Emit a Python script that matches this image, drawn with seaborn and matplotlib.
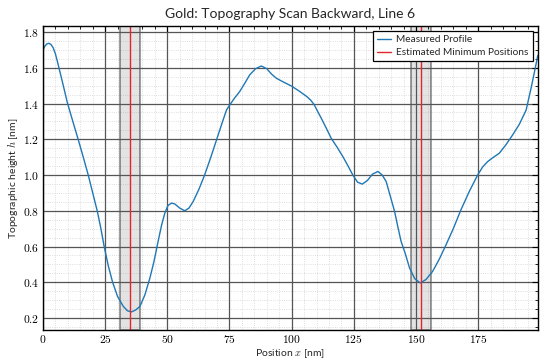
import numpy as np
import pandas as pd
import matplotlib
matplotlib.use("Agg")
import matplotlib.pyplot as plt
from matplotlib.ticker import FixedLocator, FuncFormatter
import seaborn as sns

# Height profile along the scan line
position_nm = [0, 0.8, 1.6, 2.4, 3.2, 4.1, 5, 5.8, 6.6, 8, 9.8, 12, 14.2, 16.2, 18.2,
               20, 21.8, 23.3, 24.6, 26.3, 28, 30, 32.3, 34, 35.6, 37.3, 39, 41, 43,
               44.7, 46.3, 47.7, 49, 50.3, 51.7, 53, 55, 57, 58.7, 60.4, 62.7, 65,
               67.5, 69.8, 72, 73.8, 75.1, 77, 79.1, 81, 83.1, 85.5, 87.8, 90, 91.9,
               93.9, 96.5, 99.9, 103, 106, 107.6, 109, 110.3, 111.9, 114, 115.9, 118.3,
               120.6, 122.7, 124.6, 126.5, 128.4, 130.5, 132.5, 134.7, 136.4, 138,
               139.7, 141.4, 142.7, 144, 145.7, 147.4, 149.5, 151.7, 154, 156.7, 159.4,
               162.1, 165, 168.1, 171.5, 174.8, 176.8, 178.8, 181.2, 183.5, 186.2,
               188.9, 191.6, 194.3, 196.5, 199]
height_nm = [1.700, 1.722, 1.734, 1.737, 1.731, 1.712, 1.678, 1.635, 1.59, 1.51, 1.405,
             1.30, 1.197, 1.10, 1.0, 0.90, 0.80, 0.70, 0.60, 0.49, 0.40, 0.32, 0.265,
             0.24, 0.234, 0.245, 0.265, 0.33, 0.424, 0.52, 0.629, 0.72, 0.787, 0.83,
             0.843, 0.838, 0.815, 0.80, 0.815, 0.852, 0.92, 1.0, 1.10, 1.197, 1.29,
             1.364, 1.392, 1.43, 1.467, 1.51, 1.56, 1.595, 1.61, 1.595, 1.565, 1.541,
             1.522, 1.498, 1.47, 1.44, 1.42, 1.395, 1.36, 1.318, 1.26, 1.206, 1.155,
             1.103, 1.05, 1.0, 0.96, 0.949, 0.97, 1.005, 1.02, 1.0, 0.964, 0.88, 0.796,
             0.71, 0.629, 0.56, 0.48, 0.42, 0.396, 0.415, 0.461, 0.53, 0.61, 0.70,
             0.806, 0.91, 1.0, 1.045, 1.075, 1.10, 1.122, 1.17, 1.225, 1.285, 1.364,
             1.50, 1.67]

# Estimated minima and their uncertainty half-width
minimum_positions = [35.0, 152.0]
minimum_halfwidth = [4.1, 4.0]

x_major = [0, 25, 50, 75, 100, 125, 150, 175]
y_major = [0.2, 0.4, 0.6, 0.8, 1.0, 1.2, 1.4, 1.6, 1.8]

sns.set_theme(style="white")
plt.rcParams["font.family"] = ["Lato", "DejaVu Sans"]
plt.rcParams["mathtext.fontset"] = "cm"

df = pd.DataFrame({"x": position_nm, "h": height_nm})

fig = plt.figure(figsize=(5.4, 3.61), dpi=100)
ax = fig.add_axes([0.0796, 0.086, 0.9164, 0.842])
ax.set_axisbelow(True)

# minor ticks that do not sit on a major one
x_minor = [float(v) for v in np.arange(0, 200, 5) if v % 25 != 0]
y_minor = [round(float(v), 2) for v in np.arange(0.15, 1.85, 0.05)
           if abs(v / 0.2 - round(v / 0.2)) > 1e-6]

# fine dotted grid kept underneath the major grid
for v in x_minor:
    ax.axvline(v, color="#d4d4d4", linewidth=0.6, linestyle=":", zorder=0.2)
for v in y_minor:
    ax.axhline(v, color="#d4d4d4", linewidth=0.6, linestyle=":", zorder=0.2)

for xm, hw in zip(minimum_positions, minimum_halfwidth):
    ax.axvspan(xm - hw, xm + hw, facecolor=(0.5, 0.5, 0.5, 0.22),
               edgecolor=(0, 0, 0, 0.45), linewidth=1.2, zorder=0.4)

sns.lineplot(data=df, x="x", y="h", ax=ax, color="#1f77b4", linewidth=1.0,
             label="Measured Profile", zorder=3)
for i, xm in enumerate(minimum_positions):
    ax.axvline(xm, color="#e3262b", linewidth=1.0, zorder=3,
               label="Estimated Minimum Positions" if i == 0 else None)

ax.set_xlim(0, 199)
ax.set_ylim(0.133, 1.834)

ax.xaxis.set_major_locator(FixedLocator(x_major))
ax.xaxis.set_minor_locator(FixedLocator(x_minor))
ax.yaxis.set_major_locator(FixedLocator(y_major))
ax.yaxis.set_minor_locator(FixedLocator(y_minor))
ax.xaxis.set_major_formatter(FuncFormatter(lambda v, p: f"${v:.0f}$"))
ax.yaxis.set_major_formatter(FuncFormatter(lambda v, p: f"${v:.1f}$"))

ax.grid(which="major", color="#555555", linewidth=0.9, linestyle="-")

ax.tick_params(which="both", direction="in", top=True, right=True,
               labelsize=8.3, colors="black", pad=2.5)
ax.tick_params(which="major", length=4, width=0.8)
ax.tick_params(which="minor", length=2, width=0.6)
for s in ax.spines.values():
    s.set_color("black")
    s.set_linewidth(1.0)
    s.set_zorder(4)

ax.set_xlabel("Position $x$ [nm]", fontsize=7.5, labelpad=1)
ax.set_ylabel("Topographic height $h$ [nm]", fontsize=7.5, labelpad=2)
ax.set_title("Gold: Topography Scan Backward, Line 6", fontsize=10, pad=6)

leg = ax.legend(loc="upper right", fontsize=7.3, frameon=True, fancybox=False,
                framealpha=1, edgecolor="black", borderaxespad=0.5,
                handlelength=1.4, handletextpad=0.5, borderpad=0.4,
                labelspacing=0.4)
leg.get_frame().set_linewidth(0.9)
leg.set_zorder(5)

fig.savefig("out.png", dpi=100)
